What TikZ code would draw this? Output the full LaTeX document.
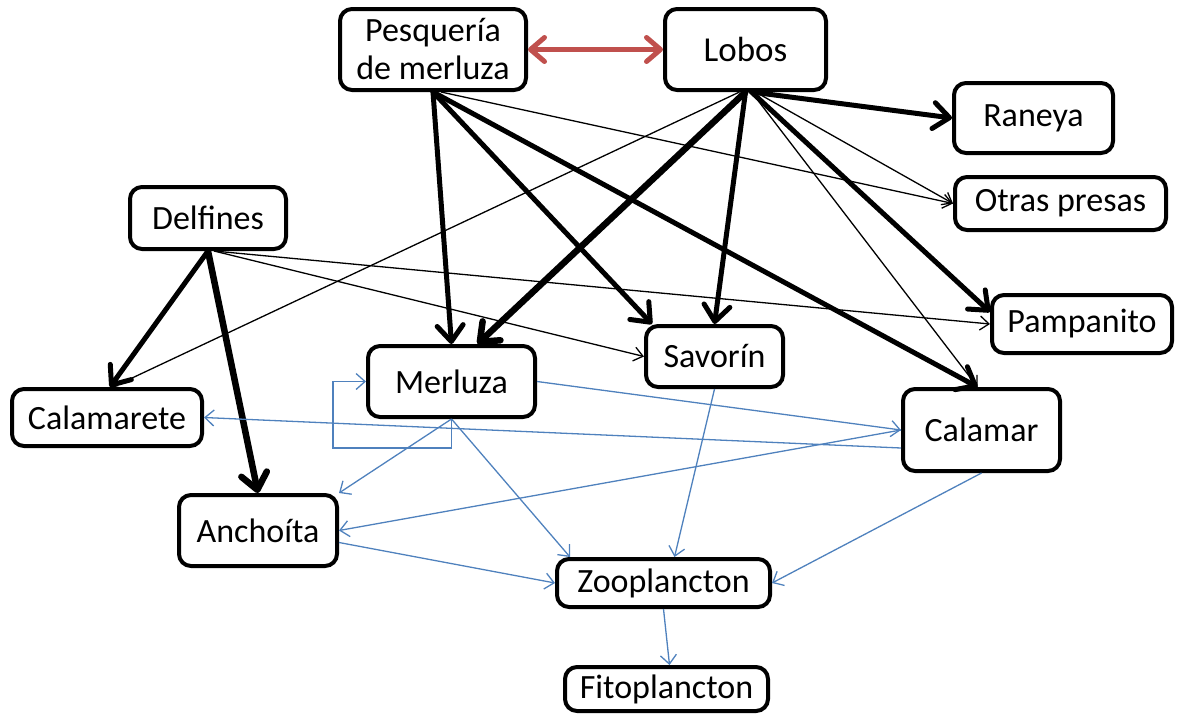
\documentclass[tikz,border=0pt]{standalone}
\usepackage{fontspec}
\setmainfont{Carlito}
\usetikzlibrary{arrows.meta,calc}
\definecolor{linkblue}{HTML}{4F81BD}
\definecolor{linkred}{HTML}{C0504D}
\begin{document}
\begin{tikzpicture}[x=1pt,y=-1pt,
  box/.style={draw=black,line width=4pt,rounded corners=12pt,fill=white,
    inner sep=0pt,align=center,font=\fontsize{34}{38}\selectfont},
  strong/.style={line width=5pt,line cap=round,
    -{Straight Barb[round,length=16pt,width=26pt]}},
  stronger/.style={strong,line width=6.5pt},
  weak/.style={line width=1.3pt,-{Straight Barb[length=9pt,width=14pt]}},
  flow/.style={draw=linkblue,line width=1.3pt,
    -{Straight Barb[length=9pt,width=16pt]}},
  fishery/.style={draw=linkred,line width=5pt,
    {Straight Barb[round,length=14pt,width=24pt]}-{Straight Barb[round,length=14pt,width=24pt]}}
]
\path[use as bounding box] (0,0) rectangle (1177,715);

% species and actors
\node[box,minimum width=186,minimum height=81] (pesq) at (433,49.5) {Pesquería\\de merluza};
\node[box,minimum width=161,minimum height=81,font=\fontsize{35}{40}\selectfont] (lobos) at (745.5,49.5) {Lobos};
\node[box,minimum width=159,minimum height=70] (raneya) at (1033.5,118) {Raneya};
\node[box,minimum width=211,minimum height=53] (otras) at (1060.5,203.5) {Otras presas};
\node[box,minimum width=156,minimum height=62] (delf) at (208,218) {Delfines};
\node[box,minimum width=180,minimum height=58] (pamp) at (1082,324) {Pampanito};
\node[box,minimum width=137,minimum height=61] (savo) at (714.5,356.5) {Savorín};
\node[box,minimum width=167,minimum height=71] (merl) at (451.5,381.5) {Merluza};
\node[box,minimum width=190,minimum height=57] (calmt) at (107,417.5) {Calamarete};
\node[box,minimum width=157,minimum height=82] (calmr) at (981.5,430) {Calamar};
\node[box,minimum width=158,minimum height=71] (anch) at (258,530.5) {Anchoíta};
\node[box,minimum width=213,minimum height=48] (zoo) at (663.5,583) {Zooplancton};
\node[box,minimum width=203,minimum height=44] (fito) at (666.5,689) {Fitoplancton};

% fishery and sea lions
\draw[fishery] (pesq.east) -- (lobos.west);

% fishery catches
\draw[strong] (pesq.south) -- (merl.north);
\draw[strong] (pesq.south) -- ($(savo.north west)+(8,0)$);
\draw[strong] (pesq.south) -- ($(calmr.north)+(-4,0)$);
\draw[weak] ($(pesq.south)+(8,0)$) -- (otras.west);

% sea lion diet
\draw[strong] ($(lobos.south)+(6,0)$) -- (raneya.west);
\draw[weak] ($(lobos.south)+(10,0)$) -- (otras.west);
\draw[stronger] (lobos.south) -- ($(merl.north)+(26,0)$);
\draw[strong] (lobos.south) -- (savo.north);
\draw[strong] ($(lobos.south)+(6,0)$) -- ($(pamp.west)+(0,-12)$);
\draw[weak] ($(lobos.south)+(6,0)$) -- ($(calmr.north)+(-4,0)$);
\draw[weak] ($(lobos.south)+(-6,0)$) -- ($(calmt.north)+(6,0)$);

% dolphin diet
\draw[strong] (delf.south) -- ($(calmt.north)+(3,0)$);
\draw[stronger] (delf.south) -- (anch.north);
\draw[weak] ($(delf.south)+(6,0)$) -- (savo.west);
\draw[weak] ($(delf.south)+(6,0)$) -- (pamp.west);

% lower trophic links
\coordinate (loop) at (333,448);
\draw[flow] (merl.south) |- (loop) |- (merl.west);
\draw[flow] (merl.south) -- (anch.north east);
\draw[flow] (merl.south) -- ($(zoo.north west)+(15,0)$);
\draw[flow] (merl.east) -- (calmr.west);
\draw[flow] ($(calmr.west)+(0,18)$) -- (calmt.east);
\draw[flow] (calmr.west) -- (anch.east);
\draw[flow] (savo.south) -- ($(zoo.north)+(11,0)$);
\draw[flow] (calmr.south) -- (zoo.east);
\draw[flow] ($(anch.east)+(0,12)$) -- (zoo.west);
\draw[flow] (zoo.south) -- ($(fito.north)+(3,0)$);
\end{tikzpicture}
\end{document}
